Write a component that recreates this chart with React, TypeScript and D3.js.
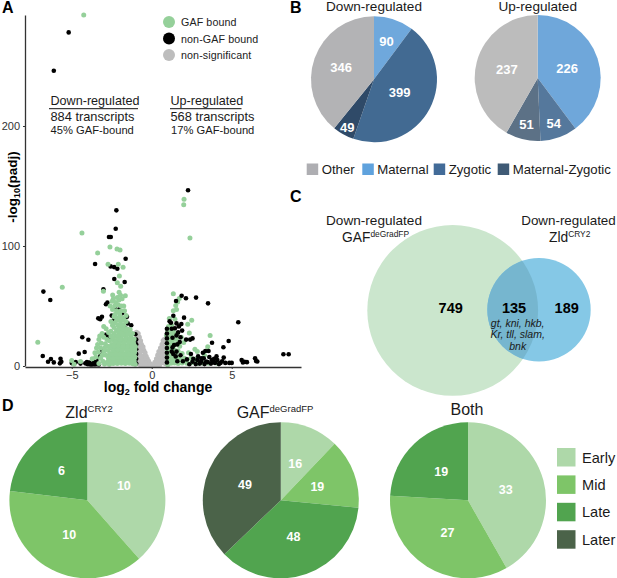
import { useEffect, useRef } from "react";
import * as d3 from "d3";

type Pt = [number, number];

const FONT = "'Liberation Sans', Arial, sans-serif";

// panel A: log2 fold change, -log10(padj)
const NON_SIG: Pt[] = [
  [-0.95, 28], [-0.85, 27], [-0.9, 23], [-0.78, 24], [-0.95, 18], [-0.8, 20], [-0.7, 21], [-0.92, 13],
  [-0.78, 15], [-0.65, 18], [-0.55, 16], [-0.9, 8], [-0.76, 10], [-0.62, 13], [-0.5, 13], [-0.42, 11],
  [-0.88, 3], [-0.74, 5], [-0.6, 8], [-0.47, 8], [-0.35, 8], [-0.28, 6], [-0.7, 1], [-0.55, 3],
  [-0.42, 4], [-0.3, 3], [-0.2, 4], [-0.12, 2], [-0.5, 0.8], [-0.3, 0.8], [-0.15, 0.6], [-0.05, 0.8],
  [0.05, 0.8], [0.15, 1], [0.25, 0.8], [0.2, 3], [0.3, 3], [0.35, 1], [0.3, 6], [0.4, 5],
  [0.45, 2], [0.38, 9], [0.48, 8], [0.55, 3], [0.45, 12], [0.55, 11], [0.65, 5], [0.55, 15],
  [0.62, 14], [0.7, 9], [0.65, 18], [0.72, 16], [0.75, 12], [0.72, 21], [0.78, 20], [0.8, 15],
  [0.85, 10], [0.85, 5], [0.85, 2], [0.78, 22], [-0.85, 18], [-0.7, 12], [-0.6, 4], [-0.4, 1.5],
  [0.62, 8], [0.7, 3], [0.78, 8], [0.5, 1],
];

const DOWN_OTHER: Pt[] = [
  [-6.12, 246], [-5.19, 278], [-2.21, 129.7], [-2.25, 114.4], [-2.67, 107.5], [-2.56, 107.5],
  [-1.63, 89.4], [-3.54, 85], [-2.57, 83], [-2.35, 82.4], [-2.15, 81], [-2.34, 72.5], [-1.69, 70],
  [-3.02, 64], [-6.77, 62], [-6.34, 55], [-2.77, 52.8], [-2.86, 51.4], [-3.34, 39.7], [-3.11, 41],
  [-3.22, 39], [-4.34, 23.9], [-3.96, 21.9], [-4.56, 10.3], [-4.19, 11.7], [-6.81, 8.3], [-6.48, 3.6],
  [-6.3, 5.8], [-6.12, 3], [-5.7, 6], [-5.74, 2.2], [-5.65, 3.5], [-5.0, 2.4], [-4.75, 3.2], [-4.45, 2],
  [-4.15, 2.2], [-4.0, 1.5], [-3.9, 2.8], [-3.78, 1.4], [-3.65, 2.4], [-3.55, 1.2], [-3.45, 3.5],
  [-3.35, 6.5], [-3.42, 1.4], [-3.2, 9], [-3.1, 13], [-2.9, 26], [-2.78, 25], [-2.66, 24],
  [-1.55, 41], [-1.85, 44], [-2.3, 48], [-2.05, 47], [-2.38, 38], [-2.5, 42], [-1.28, 34], [-1.02, 26.5],
  [-0.97, 2], [-0.97, 6], [-0.97, 10], [-0.97, 14], [-0.97, 18], [-0.97, 22], [-1.5, 35.5], [-1.7, 32],
  [-4.05, 3.2], [-3.85, 1.2], [-3.7, 1.2], [-3.6, 3.4], [-3.3, 1.2],
];

const DOWN_GAF: Pt[] = [
  [-4.25, 292.5], [-4.36, 110.8], [-7.12, 19.7], [-5.59, 65.6], [-3.38, 94.2], [-2.61, 99.2], [-2.17, 97.5],
  [-1.98, 96.7], [-2.73, 84.7], [-2.09, 84.7], [-1.79, 82.2], [-2.02, 75], [-2.15, 69.4], [-1.94, 66.4],
  [-2.04, 61.4], [-3.02, 62.2], [-1.65, 58.6], [-2.44, 59.2], [-2.4, 56], [-2.25, 53], [-2.05, 55],
  [-1.85, 56], [-2.6, 50], [-2.1, 51], [-1.9, 50], [-2.45, 47], [-2.2, 46], [-1.7, 46], [-2.3, 43],
  [-2.0, 43], [-1.8, 40], [-2.15, 40], [-2.55, 37], [-1.95, 37], [-1.6, 37], [-2.3, 36], [-2.1, 34],
  [-1.75, 34], [-3.0, 33], [-2.85, 31], [-2.35, 32], [-1.9, 31], [-1.55, 31], [-2.55, 29], [-2.2, 29.5],
  [-1.45, 28.5], [-3.1, 27], [-2.7, 28], [-2.35, 27], [-2.05, 27], [-1.75, 28], [-3.3, 22], [-3.0, 24],
  [-2.8, 22], [-2.55, 25], [-2.25, 24.5], [-1.95, 24], [-1.6, 25], [-1.3, 25], [-3.15, 19], [-2.9, 18.5],
  [-2.65, 21], [-2.4, 21.5], [-2.15, 21.5], [-1.85, 21], [-1.55, 21.5], [-1.25, 21], [-3.45, 15], [-3.2, 15],
  [-2.75, 16.5], [-2.5, 18], [-2.25, 18.5], [-2.0, 18], [-1.7, 18], [-1.4, 18], [-1.12, 18], [-3.35, 11.5],
  [-3.0, 12], [-2.72, 13], [-2.5, 14.5], [-2.25, 15], [-1.95, 15], [-1.65, 14.5], [-1.4, 15], [-1.1, 14.5],
  [-3.5, 7.5], [-3.2, 6.5], [-2.85, 9], [-2.6, 10.5], [-2.35, 11.5], [-2.1, 12], [-1.85, 11.5], [-1.55, 11.5],
  [-1.3, 12], [-1.08, 11], [-3.05, 4], [-2.7, 6.5], [-2.45, 8], [-2.2, 8.5], [-1.95, 8.5], [-1.7, 8.5],
  [-1.45, 8.5], [-1.2, 8.5], [-1.05, 7.5], [-3.3, 2], [-2.85, 2.5], [-2.55, 4.5], [-2.3, 5], [-2.05, 5.5],
  [-1.8, 5], [-1.55, 5.5], [-1.3, 5], [-1.1, 4.5], [-2.65, 1.5], [-2.4, 2], [-2.15, 2], [-1.9, 2.2],
  [-1.65, 2], [-1.4, 2.2], [-1.18, 1.8], [-1.03, 1.5], [-5.0, 4.5], [-4.85, 1.5], [-4.45, 3.8], [-3.72, 6],
  // filling the dense lower part
  [-2.95, 1.6], [-2.75, 3.6], [-2.5, 2.6], [-2.25, 3.5], [-2.0, 3.8], [-1.75, 3.4], [-1.5, 3.6], [-1.25, 3.4],
  [-2.65, 8.2], [-2.4, 6.4], [-2.15, 7], [-1.9, 7], [-1.6, 7], [-1.35, 7], [-1.12, 6.2], [-2.5, 10],
  [-2.25, 10], [-2.0, 10], [-1.75, 10], [-1.45, 10], [-1.2, 10], [-2.4, 13], [-2.15, 13.5], [-1.85, 13],
  [-1.55, 13], [-1.28, 13.5], [-1.05, 12.8], [-2.6, 15.8], [-2.35, 16.5], [-2.1, 16.8], [-1.8, 16.5], [-1.5, 16.5],
  [-1.25, 16.5], [-1.02, 16], [-2.05, 19.8], [-1.75, 19.6], [-1.45, 19.8], [-1.15, 19.6], [-2.3, 20], [-1.95, 22.5],
  [-1.65, 22.8], [-1.35, 23], [-1.1, 22.5], [-2.45, 23.5], [-2.1, 25.5], [-1.8, 25.8], [-1.5, 26.5], [-1.2, 27],
  [-1.92, 28.5], [-1.6, 29.5], [-1.35, 30.5], [-2.05, 31], [-1.78, 30.8], [-2.45, 34], [-1.9, 34], [-2.2, 38],
  [-1.72, 38], [-2.35, 41], [-1.98, 40], [-1.6, 42], [-2.1, 45], [-1.92, 46], [-2.32, 50], [-1.75, 50],
  [-2.48, 54], [-2.15, 57], [-1.95, 59], [-3.38, 18], [-3.55, 11], [-3.1, 9], [-2.95, 15], [-3.25, 25],
];

const UP_GAF: Pt[] = [
  [2.02, 139], [2.0, 134.4], [2.39, 106.7], [1.35, 60.2], [1.72, 56.2], [1.62, 53.4], [1.5, 50.5],
  [1.55, 47], [1.35, 46], [1.1, 39.5], [1.45, 39], [2.5, 38.2], [2.25, 34.7], [1.05, 33], [1.25, 34],
  [1.0, 29], [1.35, 29], [0.92, 25.5], [1.2, 25], [1.6, 27], [2.35, 27.5], [3.65, 25.5], [1.02, 22],
  [1.28, 21], [1.55, 22], [1.85, 24], [2.0, 19.5], [1.0, 18], [1.22, 17], [1.45, 18], [1.75, 16.5],
  [3.5, 16], [2.7, 14], [0.98, 14], [1.18, 13], [1.42, 13.5], [1.65, 12.5], [1.9, 10.5], [2.3, 11],
  [0.98, 10], [1.16, 9.5], [1.38, 9.5], [2.85, 12], [3.3, 9], [1.0, 6.5], [1.2, 5.5], [1.42, 6],
  [1.72, 6.5], [2.05, 6.5], [2.45, 6.5], [2.8, 6], [0.98, 3], [1.2, 2.2], [1.42, 2.4], [1.65, 2],
  [1.9, 2.6], [2.2, 2.2], [2.5, 2.8], [2.85, 2], [3.15, 2.5], [3.55, 2.2], [4.1, 2.2], [1.0, 1],
  // filling the dense lower part
  [1.1, 4], [1.3, 4], [1.52, 4], [1.85, 4.6], [2.15, 4.2], [2.65, 4], [1.1, 8], [1.28, 7.5],
  [1.55, 8], [1.1, 11.5], [1.3, 11.5], [1.5, 11], [1.08, 15.5], [1.3, 19], [1.12, 20], [1.12, 24],
  [1.42, 23], [1.1, 27], [1.28, 27], [1.45, 26], [1.15, 30], [1.18, 32],
];

const UP_OTHER: Pt[] = [
  [2.27, 146.4], [1.87, 58.6], [2.14, 56.4], [2.77, 57], [3.52, 52.2], [1.52, 54.2], [5.41, 36.4],
  [2.02, 40.3], [1.35, 41.9], [1.12, 37.2], [4.81, 20.8], [3.77, 19.4], [4.48, 15.6], [8.23, 9.8],
  [8.56, 9.8], [6.46, 6.4], [6.52, 4.2], [5.62, 5], [5.8, 3.6], [5.95, 3.2], [5.7, 3], [6.6, 3.8],
  [5.0, 2.6], [4.85, 2.6], [4.5, 7], [4.4, 4], [4.3, 2.6], [4.05, 8], [3.9, 6], [3.7, 2],
  [3.75, 5], [3.55, 12.5], [3.35, 12.5], [3.2, 11], [3.25, 6.5], [3.05, 3], [3.4, 3.8], [2.85, 5],
  [2.55, 3.5], [2.75, 1.6], [2.2, 5.5], [2.45, 10], [1.8, 9], [1.5, 8], [1.35, 10], [1.25, 12],
  [1.55, 12], [1.3, 15.5], [1.4, 17.5], [1.6, 18], [1.75, 20], [2.4, 22], [2.55, 23], [2.15, 22],
  [1.8, 24], [1.3, 23.5], [1.55, 25.5], [1.65, 28], [1.9, 29.5], [1.45, 31.5], [1.25, 31], [1.7, 33],
  [1.55, 35.5], [1.85, 35], [1.2, 36], [0.95, 19], [0.95, 15], [0.95, 11], [0.95, 7], [0.95, 23],
  [0.95, 3], [1.6, 4], [3.1, 4.2], [3.6, 7.5], [4.2, 1.6], [3.95, 2.6], [2.35, 1.5], [1.95, 4],
  [3.0, 2], [3.3, 1.6], [3.5, 3.2], [3.85, 3.6], [4.1, 5], [4.6, 2.6], [2.6, 6], [2.9, 8],
  [3.1, 6.4], [0.95, 27], [0.95, 31],
];

// panel B
const REG_CATEGORIES = ["Maternal", "Zygotic", "Maternal-Zygotic", "Other"];
const DOWN_VALUES = [90, 399, 49, 346];
const UP_VALUES = [226, 54, 51, 237];
const DOWN_COLORS = ["#6fa8dc", "#426a92", "#2f4a68", "#b3b3b5"];
const UP_COLORS = ["#6fa7da", "#55789c", "#5c7186", "#bcbcbc"];
const DOWN_LABEL_R = [40, 29, 55, 35];
const UP_LABEL_R = [31, 48, 48, 32];

// panel C
const VENN_ONLY_GAF = 749;
const VENN_SHARED = 135;
const VENN_ONLY_ZLD = 189;
const VENN_GENES = ["gt, kni, hkb,", "Kr, tll, slam,", "bnk"];

// panel D
const STAGES = ["Early", "Mid", "Late", "Later"];
const STAGE_COLORS = ["#aed8a9", "#7ec568", "#51a44f", "#4b6349"];
const ZLD_VALUES = [10, 10, 6, 0];
const GAF_VALUES = [16, 19, 48, 49];
const BOTH_VALUES = [33, 27, 19, 0];

export default function App() {
  const ref = useRef<SVGSVGElement>(null);

  useEffect(() => {
    if (!ref.current) return;
    const svg = d3.select(ref.current);
    svg.selectAll("*").remove();
    svg.attr("font-family", FONT);

    const label = (
      x: number,
      y: number,
      s: string,
      size: number,
      anchor = "start",
      weight = "normal",
      fill = "#1a1a1a",
    ) =>
      svg
        .append("text")
        .attr("x", x)
        .attr("y", y)
        .attr("font-size", size)
        .attr("text-anchor", anchor)
        .attr("font-weight", weight)
        .attr("fill", fill)
        .text(s);

    // text with a raised part, e.g. Zld^CRY2
    const supLabel = (x: number, y: number, a: string, b: string, size: number, subSize: number, anchor: string) => {
      const t = label(x, y, a, size, anchor);
      t.append("tspan").attr("dy", -size * 0.36).attr("font-size", subSize).text(b);
      return t;
    };

    // panel letters
    label(2, 13, "A", 16, "start", "bold", "#000");
    label(290, 13, "B", 16, "start", "bold", "#000");
    label(290, 202, "C", 16, "start", "bold", "#000");
    label(2, 411, "D", 16, "start", "bold", "#000");

    // A: volcano
    const x = d3.scaleLinear().domain([-7.92, 9.33]).range([25, 301]);
    const y = d3.scaleLinear().domain([0, 292.5]).range([366, 15]);

    const plot = svg.append("g");
    const dots = (pts: Pt[], color: string, r: number) =>
      plot
        .append("g")
        .selectAll("circle")
        .data(pts)
        .join("circle")
        .attr("cx", (d) => x(d[0]))
        .attr("cy", (d) => y(d[1]))
        .attr("r", r)
        .attr("fill", color);

    dots(NON_SIG, "#bdbdbd", 2.6);
    dots(DOWN_OTHER, "#000", 2.3);
    dots(DOWN_GAF, "#95d09a", 2.5);
    dots(UP_GAF, "#95d09a", 2.5);
    dots(UP_OTHER, "#000", 2.3);

    const styleAxis = (a: d3.Selection<SVGGElement, unknown, null, undefined>) => {
      a.select(".domain").attr("stroke", "#333").attr("stroke-width", 1.3);
      a.selectAll("line").attr("stroke", "#333");
      a.selectAll("text").attr("font-size", 11).attr("font-family", FONT).attr("fill", "#333");
    };
    svg
      .append("g")
      .attr("transform", "translate(0,367)")
      .call(d3.axisBottom(x).tickValues([-5, 0, 5]).tickSize(2).tickPadding(2).tickSizeOuter(0).tickFormat(d3.format("d")))
      .call(styleAxis);
    svg
      .append("g")
      .attr("transform", "translate(25,0)")
      .call(d3.axisLeft(y).tickValues([0, 100, 200]).tickSize(2).tickSizeOuter(0))
      .call(styleAxis);

    const xTitle = label(158, 392, "log", 14, "middle", "bold", "#000");
    xTitle.append("tspan").attr("dy", 3).attr("font-size", 9).text("2");
    xTitle.append("tspan").attr("dy", -3).text(" fold change");

    const yTitle = svg
      .append("text")
      .attr("transform", "translate(17,187) rotate(-90)")
      .attr("text-anchor", "middle")
      .attr("font-size", 13.5)
      .attr("font-weight", "bold")
      .attr("fill", "#000")
      .text("-log");
    yTitle.append("tspan").attr("dy", 3).attr("font-size", 9).text("10");
    yTitle.append("tspan").attr("dy", -3).text("(padj)");

    // A: legend
    const volcanoLegend = ["GAF bound", "non-GAF bound", "non-significant"];
    const volcanoColors = ["#95d09a", "#000", "#bdbdbd"];
    volcanoLegend.forEach((s, i) => {
      svg.append("circle").attr("cx", 169).attr("cy", 22 + i * 16.5).attr("r", 6).attr("fill", volcanoColors[i]);
      label(181, 26 + i * 16.5, s, 10.7, "start", "normal", "#222").attr("letter-spacing", 0.1);
    });

    // A: notes
    label(50.5, 105, "Down-regulated", 12.6);
    label(50.5, 121, "884 transcripts", 12.8);
    label(50.5, 133.5, "45% GAF-bound", 11.2);
    label(170.5, 105, "Up-regulated", 12.6);
    label(170.5, 121, "568 transcripts", 12.8);
    label(171, 133.5, "17% GAF-bound", 11.2);
    [[49, 138], [170, 241.5]].forEach(([a, b]) => {
      svg.append("line").attr("x1", a).attr("x2", b).attr("y1", 108.7).attr("y2", 108.7).attr("stroke", "#111").attr("stroke-width", 1);
    });

    // pies
    const drawPie = (
      cx: number,
      cy: number,
      r: number,
      values: number[],
      colors: string[],
      labelR: (i: number) => number,
      size: number,
    ) => {
      const g = svg.append("g").attr("transform", `translate(${cx},${cy})`);
      const arcs = d3.pie<number>().sort(null)(values);
      const arc = d3.arc<d3.PieArcDatum<number>>().innerRadius(0).outerRadius(r);
      g.selectAll("path")
        .data(arcs.filter((d) => d.value > 0))
        .join("path")
        .attr("d", arc)
        .attr("fill", (d) => colors[d.index]);
      g.selectAll("text")
        .data(arcs.filter((d) => d.value > 0))
        .join("text")
        .attr("transform", (d) => {
          const c = d3
            .arc<d3.PieArcDatum<number>>()
            .innerRadius(labelR(d.index))
            .outerRadius(labelR(d.index))
            .centroid(d);
          return `translate(${c[0]},${c[1]})`;
        })
        .attr("text-anchor", "middle")
        .attr("dominant-baseline", "central")
        .attr("font-size", size)
        .attr("font-weight", "bold")
        .attr("fill", "#fff")
        .text((d) => d.value);
    };

    // B
    label(374, 11, "Down-regulated", 13.6, "middle");
    label(537.7, 11, "Up-regulated", 13.6, "middle");
    drawPie(374, 79.3, 63, DOWN_VALUES, DOWN_COLORS, (i) => DOWN_LABEL_R[i], 13);
    drawPie(537.7, 78, 63, UP_VALUES, UP_COLORS, (i) => UP_LABEL_R[i], 13);

    const regLegend = [
      { name: REG_CATEGORIES[3], sx: 306.7, color: "#aeaeb2" },
      { name: REG_CATEGORIES[0], sx: 362.3, color: "#5fa2dd" },
      { name: REG_CATEGORIES[1], sx: 433.7, color: "#426b98" },
      { name: REG_CATEGORIES[2], sx: 497.7, color: "#3f5a75" },
    ];
    regLegend.forEach((d) => {
      svg.append("rect").attr("x", d.sx).attr("y", 163.5).attr("width", 11.5).attr("height", 11.5).attr("fill", d.color);
      label(d.sx + 15, 174, d.name, 13.2);
    });

    // C: venn, circle areas follow the transcript counts
    const rScale = d3.scaleSqrt().domain([0, VENN_ONLY_GAF + VENN_SHARED]).range([0, 85.4]);
    const rGaf = rScale(VENN_ONLY_GAF + VENN_SHARED);
    const rZld = rScale(VENN_ONLY_ZLD + VENN_SHARED);
    const defs = svg.append("defs");
    defs.append("clipPath").attr("id", "gaf-clip").append("circle").attr("cx", 452.7).attr("cy", 310.4).attr("r", rGaf);
    svg.append("circle").attr("cx", 452.7).attr("cy", 310.4).attr("r", rGaf).attr("fill", "#cbe6cd");
    svg.append("circle").attr("cx", 539).attr("cy", 309.7).attr("r", rZld).attr("fill", "#85c8e6");
    svg
      .append("circle")
      .attr("cx", 539)
      .attr("cy", 309.7)
      .attr("r", rZld)
      .attr("fill", "#76b6cf")
      .attr("clip-path", "url(#gaf-clip)");

    label(374, 225, "Down-regulated", 13.6, "middle");
    supLabel(342, 241.5, "GAF", "deGradFP", 13.8, 8.4, "start");
    label(568.5, 225, "Down-regulated", 13.4, "middle");
    supLabel(549, 241.5, "Zld", "CRY2", 13.8, 8.4, "start");

    label(450.7, 313.3, String(VENN_ONLY_GAF), 14.5, "middle", "bold", "#000");
    label(514, 313.3, String(VENN_SHARED), 14.5, "middle", "bold", "#000");
    label(566.7, 313.3, String(VENN_ONLY_ZLD), 14.5, "middle", "bold", "#000");
    VENN_GENES.forEach((s, i) => {
      label(517.7, 326.7 + i * 11.7, s, 10.5, "middle").attr("font-style", "italic");
    });

    // D
    supLabel(89, 418, "Zld", "CRY2", 16, 9.5, "middle");
    supLabel(275, 418, "GAF", "deGradFP", 16, 9.5, "middle");
    label(467, 415, "Both", 16, "middle");
    drawPie(87.4, 500.3, 78, ZLD_VALUES, STAGE_COLORS, () => 39, 12.5);
    drawPie(280.8, 500.3, 78, GAF_VALUES, STAGE_COLORS, () => 39, 12.5);
    drawPie(468, 500.3, 78, BOTH_VALUES, STAGE_COLORS, () => 39, 12.5);

    STAGES.forEach((s, i) => {
      const top = 448 + i * 27.4;
      svg.append("rect").attr("x", 557).attr("y", top).attr("width", 18.5).attr("height", 18.5).attr("fill", STAGE_COLORS[i]);
      label(582, top + 14.5, s, 14.6);
    });
  }, []);

  return <svg ref={ref} width={617} height={578} style={{ position: "absolute", left: 0, top: 0 }} />;
}
